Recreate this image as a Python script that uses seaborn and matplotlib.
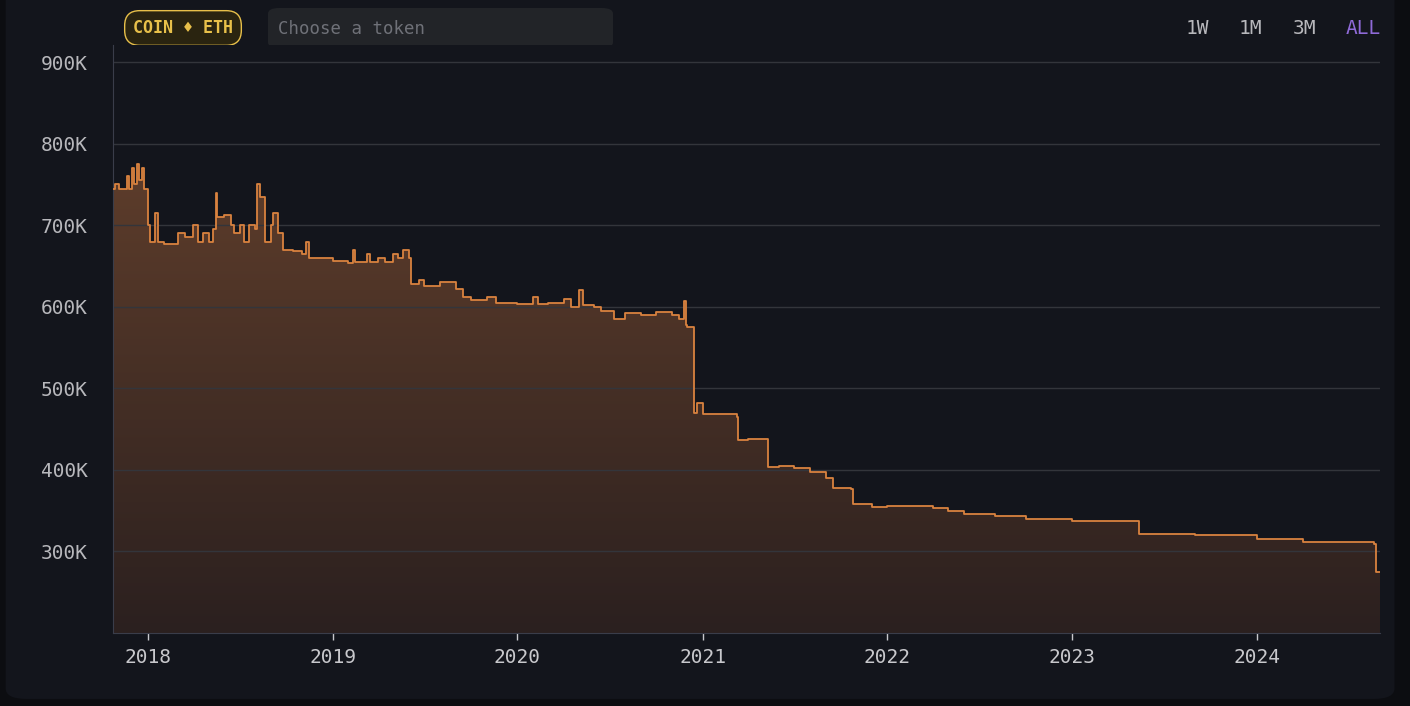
import matplotlib
matplotlib.use("Agg")
import matplotlib.pyplot as plt
import seaborn as sns
import pandas as pd
import numpy as np
import matplotlib.dates as mdates
from matplotlib.patches import FancyBboxPatch
from matplotlib.colors import LinearSegmentedColormap

dates = ["2017-10-24","2017-10-28","2017-11-05","2017-11-20","2017-11-25","2017-12-01","2017-12-05","2017-12-10","2017-12-15","2017-12-20","2017-12-25","2018-01-01","2018-01-05","2018-01-15","2018-01-20","2018-02-01","2018-03-01","2018-03-15","2018-04-01","2018-04-10","2018-04-20","2018-05-01","2018-05-10","2018-05-15","2018-05-18","2018-06-01","2018-06-15","2018-06-20","2018-07-01","2018-07-10","2018-07-20","2018-08-01","2018-08-05","2018-08-10","2018-08-20","2018-09-01","2018-09-05","2018-09-15","2018-09-25","2018-10-15","2018-11-01","2018-11-10","2018-11-15","2019-01-01","2019-02-01","2019-02-10","2019-02-15","2019-03-10","2019-03-15","2019-04-01","2019-04-15","2019-05-01","2019-05-10","2019-05-20","2019-06-01","2019-06-05","2019-06-20","2019-07-01","2019-08-01","2019-09-01","2019-09-15","2019-10-01","2019-11-01","2019-11-20","2020-01-01","2020-02-01","2020-02-10","2020-03-01","2020-04-01","2020-04-15","2020-05-01","2020-05-10","2020-06-01","2020-06-15","2020-07-01","2020-07-10","2020-08-01","2020-09-01","2020-10-01","2020-11-01","2020-11-15","2020-11-25","2020-11-28","2020-12-01","2020-12-10","2020-12-14","2020-12-20","2021-01-01","2021-03-10","2021-03-12","2021-04-01","2021-05-01","2021-05-10","2021-06-01","2021-07-01","2021-08-01","2021-09-01","2021-09-15","2021-10-20","2021-10-25","2021-12-01","2022-01-01","2022-04-01","2022-05-01","2022-06-01","2022-08-01","2022-10-01","2023-01-01","2023-05-10","2023-05-12","2023-09-01","2024-01-01","2024-04-01","2024-08-20","2024-08-23","2024-08-31"]
values_k = [745,750,745,760,745,770,750,775,755,770,745,700,680,715,680,677,690,685,700,680,690,680,695,740,710,712,700,690,700,680,700,695,750,735,680,700,715,690,670,668,665,680,660,656,654,670,655,665,655,660,655,665,660,670,660,628,633,625,630,622,612,608,612,605,604,612,603,605,610,600,620,602,600,595,595,585,592,590,593,590,585,607,578,575,575,470,482,468,465,437,438,438,403,405,402,398,390,378,376,358,355,356,353,350,346,343,340,337,337,322,320,315,311,309,275,275]
ytick_vals = [300,400,500,600,700,800,900]
ytick_labels = ["300K","400K","500K","600K","700K","800K","900K"]
ranges = ["1W","1M","3M","ALL"]

df = pd.DataFrame({"date": pd.to_datetime(dates), "value": np.array(values_k) * 1000})

BG = "#13151c"
fig = plt.figure(figsize=(14.1, 7.06), dpi=100, facecolor="#0c0d11")
panel = FancyBboxPatch((0.004, 0.01), 0.985, 1.1, boxstyle="round,pad=0,rounding_size=0.015",
                       transform=fig.transFigure, facecolor=BG, edgecolor="none", zorder=-10)
fig.patches.append(panel)
ax = fig.add_axes([113/1410, 1-633/706, (1380-113)/1410, (633-45)/706])
ax.set_zorder(5)
ax.set_facecolor(BG)
mono = "DejaVu Sans Mono"

sns.lineplot(data=df, x="date", y="value", ax=ax, drawstyle="steps-post", color="#d9823f", lw=1.3, zorder=3)
ymin, ymax = 200000, 921000
fill = ax.fill_between(df["date"], df["value"], ymin, step="post", color="none")
grad = np.linspace(0, 1, 256).reshape(-1, 1)
cmap = LinearSegmentedColormap.from_list("g", ["#2b201f", "#5e3d2b"])
x0, x1 = mdates.date2num(df["date"].iloc[0]), mdates.date2num(df["date"].iloc[-1])
im = ax.imshow(grad, cmap=cmap, aspect="auto", origin="lower", extent=[x0, x1, ymin, 780000], zorder=1)
im.set_clip_path(fill.get_paths()[0], ax.transData)
ax.set_xlim(x0, x1)
ax.set_ylim(ymin, ymax)
ax.set_yticks([v*1000 for v in ytick_vals])
ax.set_yticklabels(ytick_labels)
ax.grid(axis="y", color="#33353b", lw=1, zorder=2)
ax.grid(axis="x", visible=False)
ax.xaxis.set_major_locator(mdates.YearLocator())
ax.xaxis.set_major_formatter(mdates.DateFormatter("%Y"))
ax.set_xlabel(""); ax.set_ylabel("")
for s in ["top", "right"]:
    ax.spines[s].set_visible(False)
for s in ["left", "bottom"]:
    ax.spines[s].set_color("#3a3d4a")
ax.tick_params(colors="#b8b8bc", labelsize=14, length=5, width=1)
for lab in ax.get_xticklabels() + ax.get_yticklabels():
    lab.set_fontfamily(mono)
ax.tick_params(axis="x", colors="#c8c8cc", pad=6)
ax.tick_params(axis="y", length=0, pad=18)

fig.text(183/1410, 1-28/706, "COIN ♦ ETH", family=mono, fontsize=12, fontweight="bold", color="#e8c04a",
         ha="center", va="center",
         bbox=dict(boxstyle="round,pad=0.5,rounding_size=0.9", fc="#2a2410", ec="#e8c04a", lw=1))
fig.patches.append(FancyBboxPatch((268/1410, 1-48/706), 345/1410, 40/706,
                   boxstyle="round,pad=0,rounding_size=0.008", transform=fig.transFigure,
                   fc="#222428", ec="none", zorder=-5))
fig.text(278/1410, 1-29/706, "Choose a token", family=mono, fontsize=12.5, color="#6f7178", va="center")
for lab, xp in zip(ranges, [1197, 1250, 1304, 1363]):
    fig.text(xp/1410, 1-29/706, lab, family=mono, fontsize=14, ha="center", va="center",
             color="#8f6ad8" if lab == "ALL" else "#b8b8bc")

fig.savefig("out.png", dpi=100, facecolor=fig.get_facecolor())
